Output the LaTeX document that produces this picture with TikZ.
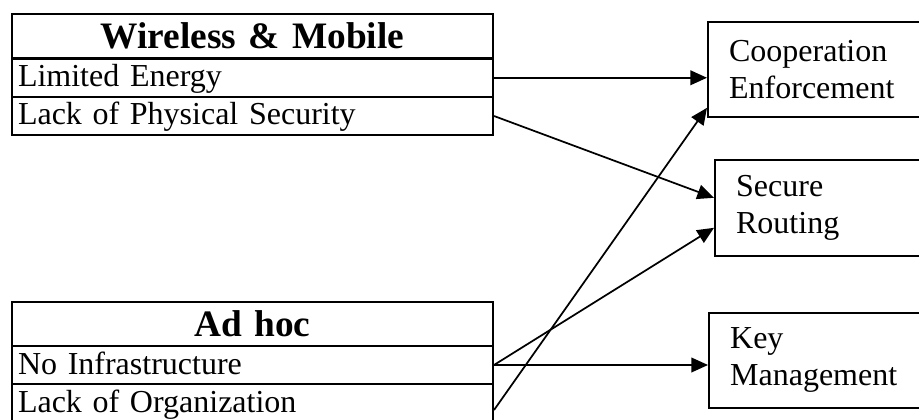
\documentclass[tikz,border=0pt]{standalone}
\usepackage{fontspec}
\setmainfont{Liberation Serif}
\usetikzlibrary{arrows.meta,calc}
\begin{document}
\begin{tikzpicture}[x=0.75pt,y=-0.75pt,
  row/.style={draw,line width=1.5pt,anchor=north west,minimum width=360.75pt,inner xsep=4.5pt,inner ysep=0pt,text width=351.75pt,align=left,font=\fontsize{24}{27}\selectfont,text height=17pt,text depth=3.5pt},
  head/.style={row,align=center,font=\fontsize{28}{32}\selectfont\bfseries,text height=21pt,text depth=3pt},
  target/.style={draw,line width=1.2pt,anchor=north west,inner xsep=16pt,text width=180pt,align=left,font=\fontsize{24}{27.75}\selectfont},
  link/.style={line width=1.3pt,-{Triangle[length=12.5pt,width=11pt]}}]
\useasboundingbox (0,0) rectangle (919,420);
% left tables
\node[head,minimum height=33.4pt] (wm) at (11,13) {Wireless \& Mobile};
\node[row,minimum height=28.9pt] (le) at (11,57.5) {Limited Energy};
\node[row,minimum height=28.5pt] (lps) at (11,96) {Lack of Physical Security};
\node[head,minimum height=33pt] (ah) at (11,301) {Ad hoc};
\node[row,minimum height=28.5pt] (ni) at (11,345) {No Infrastructure};
\node[row,minimum height=29.25pt] (lo) at (11,383) {Lack of Organization};
% right boxes
\node[target,minimum height=71.25pt] (coop) at (707,21) {Cooperation\\Enforcement};
\node[target,minimum height=72pt] (sr) at (714,159) {Secure\\Routing};
\node[target,minimum height=71.25pt] (km) at (708,312) {Key\\Management};
% connectors
\draw[link] (le.east) -- (le.east -| coop.west);
\draw[link] (lps.east) -- ([yshift=7.5pt]sr.west);
\draw[link] (ni.east) -- ([yshift=-15pt]sr.west);
\draw[link] (ni.east) -- (ni.east -| km.west);
\draw[link] ([yshift=-4.9pt]lo.east) -- ([yshift=-28.9pt]coop.west);
\end{tikzpicture}
\end{document}
